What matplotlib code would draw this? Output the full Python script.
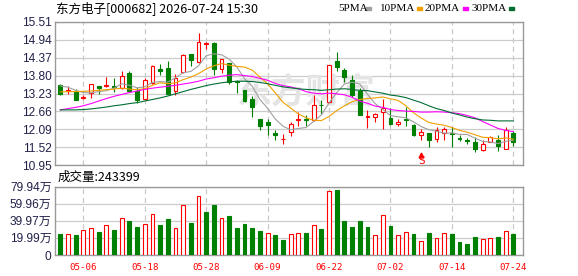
import numpy as np
import pandas as pd
import matplotlib
matplotlib.use('Agg')
import matplotlib.pyplot as plt
import matplotlib.transforms as mtransforms
from matplotlib.patches import Rectangle

# 东方电子[000682] 日K（元），成交量（万）
opens = [13.50, 13.30, 13.31, 13.10, 13.26, 13.47, 13.47, 13.46, 13.40, 13.89,
         13.30, 13.05, 13.56, 14.01, 14.04, 13.31, 13.91, 14.49, 14.22, 14.79,
         14.84, 14.00, 14.19, 13.63, 13.35, 13.05, 12.43, 12.32, 11.97, 11.77,
         12.01, 12.39, 12.42, 12.40, 12.87, 12.96, 14.25, 13.98, 13.66, 13.31,
         12.49, 12.48, 12.64, 12.46, 12.26, 12.42, 12.23, 11.92, 11.97, 11.78,
         11.99, 11.99, 11.83, 11.74, 11.69, 11.42, 11.70, 11.76, 11.47, 11.99]
highs = [13.54, 13.47, 13.37, 13.18, 13.53, 13.47, 13.75, 13.72, 13.95, 13.96,
         13.43, 13.71, 14.13, 14.18, 14.25, 13.85, 14.49, 14.49, 15.14, 14.86,
         14.88, 14.34, 14.21, 13.66, 13.35, 13.14, 12.43, 12.42, 12.08, 11.95,
         12.31, 12.63, 12.54, 13.19, 13.01, 14.13, 14.55, 14.03, 13.82, 13.39,
         12.71, 12.61, 13.05, 12.77, 12.42, 12.80, 12.26, 12.11, 11.99, 12.16,
         12.16, 12.16, 11.92, 11.83, 11.85, 11.74, 11.88, 11.91, 12.16, 12.03]
lows = [13.19, 13.20, 13.01, 13.07, 13.10, 13.20, 13.45, 13.29, 13.38, 13.29,
        12.93, 13.03, 13.54, 13.83, 13.22, 13.19, 13.87, 14.09, 14.19, 14.63,
        13.82, 13.87, 13.54, 13.24, 12.97, 12.48, 12.08, 11.92, 11.74, 11.63,
        11.89, 12.21, 12.21, 12.37, 12.58, 12.94, 13.93, 13.58, 13.11, 12.55,
        12.15, 12.32, 12.10, 12.22, 12.21, 12.19, 11.87, 11.74, 11.52, 11.68,
        11.76, 11.52, 11.71, 11.64, 11.37, 11.40, 11.69, 11.41, 11.46, 11.55]
closes = [13.22, 13.35, 13.03, 13.12, 13.53, 13.42, 13.49, 13.44, 13.80, 13.31,
          13.02, 13.65, 14.10, 13.95, 13.23, 13.72, 14.45, 14.30, 14.86, 14.82,
          14.00, 14.32, 13.61, 13.60, 12.98, 12.80, 12.21, 12.23, 11.90, 11.80,
          12.26, 12.41, 12.39, 12.86, 12.85, 14.13, 14.06, 13.75, 13.17, 12.56,
          12.51, 12.58, 12.77, 12.25, 12.33, 12.38, 11.91, 12.02, 11.74, 12.08,
          12.10, 11.95, 11.80, 11.72, 11.47, 11.62, 11.84, 11.55, 12.08, 11.68]
vol = [24.7, 24.3, 23.5, 29.0, 31.8, 27.0, 34.9, 29.4, 43.1, 40.0,
       32.9, 36.1, 47.8, 35.3, 42.3, 31.8, 58.4, 37.6, 69.4, 50.6,
       58.8, 43.5, 45.9, 31.0, 36.5, 31.0, 28.2, 25.5, 23.5, 17.6,
       24.3, 25.5, 25.9, 34.9, 30.6, 74.9, 75.7, 40.0, 32.1, 40.0,
       32.1, 23.1, 46.6, 34.1, 23.1, 26.7, 24.7, 16.1, 25.9, 20.0,
       25.5, 24.7, 15.3, 12.9, 21.2, 18.4, 20.0, 21.2, 27.8, 24.3399]

ma5 = [13.47, 13.43, 13.33, 13.26, 13.25, 13.29, 13.32, 13.40, 13.54, 13.49,
       13.41, 13.44, 13.58, 13.61, 13.59, 13.73, 13.89, 13.93, 14.11, 14.43,
       14.49, 14.46, 14.32, 14.07, 13.70, 13.46, 13.04, 12.76, 12.42, 12.19,
       12.08, 12.12, 12.15, 12.34, 12.55, 12.93, 13.26, 13.53, 13.59, 13.53,
       13.21, 12.91, 12.72, 12.53, 12.49, 12.46, 12.33, 12.18, 12.08, 12.03,
       11.97, 11.98, 11.93, 11.93, 11.81, 11.71, 11.69, 11.64, 11.71, 11.75]
ma10 = [13.28, 13.29, 13.29, 13.30, 13.31, 13.33, 13.35, 13.37, 13.40, 13.37,
        13.35, 13.38, 13.49, 13.57, 13.54, 13.57, 13.67, 13.75, 13.86, 14.01,
        14.11, 14.18, 14.13, 14.09, 14.07, 13.97, 13.75, 13.54, 13.25, 12.95,
        12.77, 12.58, 12.46, 12.38, 12.37, 12.50, 12.69, 12.84, 12.97, 13.04,
        13.07, 13.09, 13.12, 13.06, 13.01, 12.84, 12.62, 12.45, 12.31, 12.26,
        12.22, 12.15, 12.06, 12.00, 11.92, 11.84, 11.83, 11.79, 11.82, 11.78]
ma20 = [12.71, 12.75, 12.79, 12.84, 12.91, 12.99, 13.07, 13.14, 13.20, 13.26,
        13.31, 13.36, 13.40, 13.43, 13.46, 13.49, 13.53, 13.57, 13.62, 13.69,
        13.73, 13.78, 13.81, 13.83, 13.80, 13.77, 13.71, 13.65, 13.55, 13.48,
        13.44, 13.38, 13.29, 13.24, 13.22, 13.24, 13.22, 13.19, 13.11, 12.99,
        12.92, 12.83, 12.79, 12.72, 12.69, 12.67, 12.66, 12.64, 12.64, 12.65,
        12.64, 12.62, 12.59, 12.53, 12.46, 12.34, 12.23, 12.12, 12.06, 12.02]
ma30 = [12.71, 12.71, 12.71, 12.72, 12.74, 12.77, 12.80, 12.84, 12.87, 12.91,
        12.94, 12.99, 13.04, 13.09, 13.15, 13.22, 13.29, 13.36, 13.42, 13.48,
        13.53, 13.57, 13.60, 13.62, 13.62, 13.61, 13.58, 13.54, 13.49, 13.44,
        13.41, 13.38, 13.36, 13.35, 13.33, 13.35, 13.37, 13.38, 13.36, 13.33,
        13.32, 13.28, 13.24, 13.18, 13.15, 13.10, 13.02, 12.94, 12.84, 12.75,
        12.69, 12.61, 12.55, 12.48, 12.43, 12.39, 12.38, 12.36, 12.36, 12.36]

price_ticks = [10.95, 11.52, 12.09, 12.66, 13.23, 13.80, 14.37, 14.94, 15.51]
vol_ticks = [0, 19.99, 39.97, 59.96, 79.94]
tick_labels = ['05-06', '05-18', '05-28', '06-09', '06-22', '07-02', '07-14', '07-24']
holidays = ['2026-05-01', '2026-05-04', '2026-05-05', '2026-06-19']
sell_days = ['07-08']

days = pd.bdate_range('2026-04-28', '2026-07-24')
days = days[~days.isin(pd.to_datetime(holidays))]
day_labels = list(days.strftime('%m-%d'))
tick_pos = [day_labels.index(t) for t in tick_labels]

RED = '#ff0000'
GREEN = '#008000'
FRAME = '#9a9a9a'
GRID = '#cccccc'
TXT = '#20204a'

plt.rcParams['font.family'] = ['Liberation Sans', 'Noto Sans CJK SC']
plt.rcParams['axes.unicode_minus'] = False

W, H = 578, 276
fig = plt.figure(figsize=(W / 100, H / 100), dpi=100)
ax = fig.add_axes([55 / W, 1 - 165.3 / H, 468 / W, 143.6 / H])
ax2 = fig.add_axes([55 / W, 1 - 255 / H, 468 / W, 68.5 / H])

x = np.arange(len(days))
o, h, l, c = map(np.array, (opens, highs, lows, closes))
up = c >= o
col = np.where(up, RED, GREEN)

# 均线
ax.plot(x, ma5, color='#a0a0a0', lw=0.8, zorder=5)
ax.plot(x, ma10, color='#f0a000', lw=0.8, zorder=5)
ax.plot(x, ma20, color='#ff00ff', lw=0.8, zorder=5)
ax.plot(x, ma30, color='#006e33', lw=0.8, zorder=5)

# K线
ax.vlines(x, l, h, colors=col, lw=0.8, zorder=3)
ax.bar(x, np.maximum(np.abs(c - o), 0.012), bottom=np.minimum(o, c), width=0.5,
       color=np.where(up, 'white', GREEN), edgecolor=col, lw=0.8, zorder=4)

# 卖出信号
trans = mtransforms.blended_transform_factory(ax.transData, ax.transAxes)
for d in sell_days:
    i = day_labels.index(d)
    ax.plot(i, 0.075, marker='^', ms=3.5, color=RED, transform=trans, zorder=6)
    ax.text(i, 0.03, 'S', color=RED, fontsize=8, family='DejaVu Sans Mono',
            ha='center', va='center', transform=trans, zorder=6)

# 水印
ax.text(0.53, 0.665, '东方财富', transform=fig.transFigure, fontsize=25,
        fontweight='bold', color='#e4e4e4', family='Noto Sans CJK SC',
        ha='center', va='center', zorder=1)

# 成交量
prev = np.r_[o[0], c[:-1]]
vup = c >= prev
vcol = np.where(vup, RED, GREEN)
ax2.bar(x, vol, width=0.5, color=np.where(vup, 'white', GREEN), edgecolor=vcol,
        lw=0.8, zorder=3)

for a in (ax, ax2):
    a.set_xlim(-0.69, 60.26)
    a.set_xticks(tick_pos)
    a.tick_params(length=0, colors=TXT, labelsize=8.6)
    a.yaxis.grid(True, color=GRID, lw=0.9)
    a.xaxis.grid(True, color='#c8c8c8', lw=0.9, ls=(0, (4, 3)))
    a.set_axisbelow(True)
    for s in a.spines.values():
        s.set_color(FRAME)
        s.set_linewidth(1.0)

ax.set_ylim(price_ticks[0], price_ticks[-1])
ax.set_yticks(price_ticks)
ax.set_yticklabels([f'{t:.2f}' for t in price_ticks])
ax.set_xticklabels([])
ax.tick_params(axis='y', pad=2.5)

ax2.set_ylim(vol_ticks[0], vol_ticks[-1])
ax2.set_yticks(vol_ticks)
ax2.set_yticklabels(['0'] + [f'{t:.2f}万' for t in vol_ticks[1:]])
ax2.tick_params(axis='y', pad=2.5)
ax2.set_xticklabels(tick_labels, color=RED, fontsize=6.6, family='DejaVu Sans Mono')
ax2.tick_params(axis='x', pad=5.5, labelcolor=RED)

# 标题与图例
fig.text(56 / W, 1 - 8.5 / H, '东方电子[000682] 2026-07-24 15:30', fontsize=9,
         family='Noto Sans CJK SC', va='center', color='black')
fig.text(57.5 / W, 1 - 177 / H, f'成交量:{vol[-1] * 10000:.0f}', fontsize=9,
         family='Noto Sans CJK SC', va='center', color='black')

legend = [('5PMA', '#a0a0a0', 338, 366), ('10PMA', '#f0a000', 380, 417),
          ('20PMA', '#ff00ff', 425, 463), ('30PMA', '#006e33', 472, 509)]
for name, color, tx, sx in legend:
    fig.text(tx / W, 1 - 8.7 / H, name, fontsize=8, family='Liberation Serif',
             va='center', color='black')
    fig.patches.append(Rectangle((sx / W, 1 - 10 / H), 5 / W, 3 / H,
                                 transform=fig.transFigure, color=color))

fig.savefig('out.png', dpi=100)
plt.close(fig)
